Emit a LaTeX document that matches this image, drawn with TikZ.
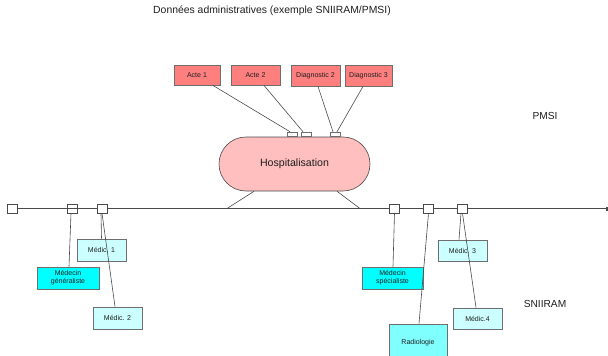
\documentclass[tikz,border=0pt]{standalone}
\usepackage{fontspec}
\setmainfont{Liberation Sans}
\usetikzlibrary{positioning,arrows.meta,calc}
\definecolor{acteC}{HTML}{FF7F7F}
\definecolor{hospC}{HTML}{FFBFBF}
\definecolor{medicC}{HTML}{CCFFFF}
\definecolor{docC}{HTML}{00FFFF}
\definecolor{radioC}{HTML}{80FFFF}
\definecolor{lineC}{HTML}{4A4A4A}
\definecolor{darkC}{HTML}{1E1E1E}

\begin{document}
\begin{tikzpicture}[
  x=1pt, y=-1pt,
  every node/.style={font=\fontsize{7}{8.2}\selectfont, text=darkC},
  databox/.style={draw=lineC!80, fill=#1, line width=0.9pt,
                  inner sep=0pt, align=center},
  port/.style={draw=lineC!80, fill=white, line width=0.5pt,
               minimum width=10pt, minimum height=4pt, inner sep=0pt},
  tick/.style={draw=lineC, line width=0.6pt,
               minimum width=10pt, minimum height=9pt, inner sep=0pt},
  link/.style={draw=lineC, line width=0.6pt},
  bigtext/.style={font=\fontsize{10.2}{12}\selectfont},
]
\useasboundingbox (0,0) rectangle (608,356);

% ── Title ──
\node[font=\fontsize{10.4}{12}\selectfont] (title) at (272,11)
  {Données administratives (exemple SNIIRAM/PMSI)};

% ── PMSI: actes et diagnostics ──
\node[databox=acteC, minimum width=46pt, minimum height=20pt] (acte1) at (197,75) {Acte 1};
\node[databox=acteC, minimum width=49pt, minimum height=20pt] (acte2) at (255.5,75) {Acte 2};
\node[databox=acteC, minimum width=49pt, minimum height=21pt] (diag2) at (315.5,75.5) {Diagnostic 2};
\node[databox=acteC, minimum width=47pt, minimum height=21pt] (diag3) at (368.5,75.5) {Diagnostic 3};

% ── Hospitalisation ──
\node[draw=lineC, fill=hospC, line width=0.6pt, rounded corners=27pt,
      minimum width=151pt, minimum height=54pt,
      font=\fontsize{10.6}{12}\selectfont] (hosp) at (294.5,164) {Hospitalisation};
\node[port] (p1) at (292,134) {};
\node[port] (p2) at (306,134) {};
\node[port] (p3) at (335,134) {};

\draw[link] ([xshift=16pt]acte1.south) -- ([xshift=-2pt]p1.north);
\draw[link] ([xshift=8.5pt]acte2.south) -- ([xshift=-3pt]p2.north);
\draw[link] ([xshift=2.5pt]diag2.south) -- ([xshift=-2pt]p3.north);
\draw[link] ([xshift=-5.5pt]diag3.south) -- ([xshift=2pt]p3.north);

\node[bigtext] (pmsi) at (545,116) {PMSI};

% ── Timeline ──
\node[tick, fill=white] (t0) at (12,208.5) {};
\node[tick] (t1) at (72,208.5) {};
\node[tick, fill=white, line width=0.8pt] (t2) at (102,208.5) {};
\node[tick, fill=white] (t3) at (394.5,208.5) {};
\node[tick, fill=white] (t4) at (428.5,208.5) {};
\node[tick, fill=white] (t5) at (462.5,208.5) {};
\coordinate (tend) at (608,208.5);
\coordinate (legL) at (227,208.5);
\coordinate (legR) at (360,208.5);

\draw[link] (t0.east) -- (t1.west) -- (t1.east) -- (t2.west);
\draw[link] (t2.east) -- (t3.west);
\draw[link] (t3.east) -- (t4.west);
\draw[link] (t4.east) -- (t5.west);
\draw[link, -{Square[length=2.5pt,width=4pt]}] (t5.east) -- (tend);

% ── Hospitalisation on the timeline ──
\draw[link] ([xshift=-40.5pt]hosp.south) -- (legL);
\draw[link] ([xshift=42.5pt]hosp.south) -- (legR);

% ── SNIIRAM: soins de ville ──
\node[databox=medicC, minimum width=49pt, minimum height=22pt] (m1) at (101.5,250) {Médic. 1};
\node[databox=docC, minimum width=62pt, minimum height=22pt] (mg) at (68,278) {Médecin\\généraliste};
\node[databox=medicC, minimum width=49pt, minimum height=22pt] (m2) at (117.5,318) {Médic. 2};
\node[databox=docC, minimum width=61pt, minimum height=22pt] (ms) at (392.5,278) {Médecin\\spécialiste};
\node[databox=radioC, minimum width=58pt, minimum height=38pt] (radio) at (418,343) {Radiologie};
\node[databox=medicC, minimum width=49pt, minimum height=21pt] (m3) at (462.5,250.5) {Médic. 3};
\node[databox=medicC, minimum width=49pt, minimum height=21pt] (m4) at (477.5,318.5) {Médic.4};

\draw[link] ([xshift=-1pt]t1.south) -- ([xshift=1pt]mg.north);
\draw[link] ([xshift=-1pt]t2.south) -- (m1.north);
\draw[link] (t2.south) -- ([xshift=-2.5pt]m2.north);
\draw[link] (t3.south) -- ([xshift=0.5pt]ms.north);
\draw[link] (t4.south) -- ([xshift=1pt]radio.north);
\draw[link] ([xshift=-1.5pt]t5.south) -- ([xshift=-3.5pt]m3.north);
\draw[link] (t5.south) -- ([xshift=-1.5pt]m4.north);

\node[bigtext] (sniiram) at (545,304) {SNIIRAM};

\end{tikzpicture}
\end{document}
